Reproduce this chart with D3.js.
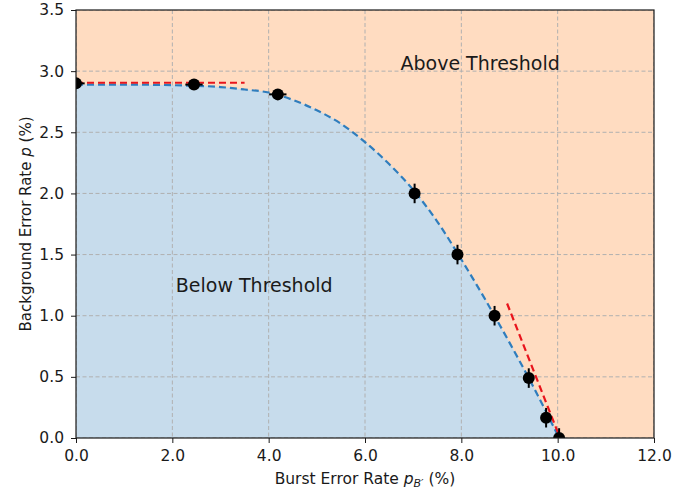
<!DOCTYPE html>
<html>
<head>
<meta charset="utf-8">
<script src="https://cdn.jsdelivr.net/npm/d3@7"></script>
<style>
  body { margin: 0; background: #fff; }
  text { font-family: "DejaVu Sans", sans-serif; }
</style>
</head>
<body>
<div id="chart"></div>
<script>
// threshold points (burst rate %, background rate %)
const pointX = [0.0, 2.45, 4.19, 7.03, 7.92, 8.69, 9.40, 9.76, 10.03];
const pointY = [2.90, 2.89, 2.81, 2.00, 1.50, 1.00, 0.49, 0.166, 0.0];
const errX   = [0.18, 0.18, 0.18, 0, 0, 0, 0, 0, 0];
const errY   = [0, 0, 0, 0.08, 0.08, 0.08, 0.08, 0.08, 0.08];

// fitted threshold boundary
const curveX = [0, 1.0, 2.0, 3.0, 3.5, 4.0, 4.5, 5.0, 5.5, 6.0, 6.5, 7.0, 7.5, 8.0, 8.5, 9.0, 9.5, 10.03];
const curveY = [2.89, 2.89, 2.885, 2.87, 2.85, 2.825, 2.765, 2.68, 2.57, 2.42, 2.24, 2.03, 1.77, 1.46, 1.13, 0.78, 0.415, 0.0];

// asymptotic red dashed guides
const guideTop = [[0, 2.905], [3.5, 2.905]];
const guideBottom = [[8.95, 1.1], [10.05, 0.0]];

const xTicks = [0, 2, 4, 6, 8, 10, 12];
const yTicks = [0, 0.5, 1.0, 1.5, 2.0, 2.5, 3.0, 3.5];

const width = 695, height = 491;
const margin = {top: 10, right: 41, bottom: 53, left: 76};
const iw = width - margin.left - margin.right;
const ih = height - margin.top - margin.bottom;

const svg = d3.select('#chart').append('svg')
    .attr('width', width)
    .attr('height', height);

const g = svg.append('g')
    .attr('transform', `translate(${margin.left},${margin.top})`);

const x = d3.scaleLinear().domain([0, 12]).range([0, iw]);
const y = d3.scaleLinear().domain([0, 3.5]).range([ih, 0]);

svg.append('defs').append('clipPath').attr('id', 'clip')
    .append('rect').attr('width', iw).attr('height', ih);

const plot = g.append('g').attr('clip-path', 'url(#clip)');

// above-threshold background
plot.append('rect')
    .attr('width', iw).attr('height', ih)
    .attr('fill', '#ffdcc1');

const curve = curveX.map((v, i) => [v, curveY[i]]);

plot.append('path')
    .datum(curve)
    .attr('fill', '#c7dcec')
    .attr('d', d3.area()
        .x(d => x(d[0]))
        .y0(y(0))
        .y1(d => y(d[1]))
        .curve(d3.curveMonotoneX));

// grid
plot.append('g').selectAll('line').data(xTicks).join('line')
    .attr('x1', d => x(d)).attr('x2', d => x(d))
    .attr('y1', 0).attr('y2', ih)
    .attr('stroke', '#b0b0b0').attr('stroke-width', 1)
    .attr('stroke-dasharray', '4,2.5');
plot.append('g').selectAll('line').data(yTicks).join('line')
    .attr('y1', d => y(d)).attr('y2', d => y(d))
    .attr('x1', 0).attr('x2', iw)
    .attr('stroke', '#b0b0b0').attr('stroke-width', 1)
    .attr('stroke-dasharray', '4,2.5');

plot.append('path')
    .datum(curve)
    .attr('fill', 'none')
    .attr('stroke', '#2f7dbd')
    .attr('stroke-width', 2.2)
    .attr('stroke-dasharray', '7,4')
    .attr('d', d3.line().x(d => x(d[0])).y(d => y(d[1])).curve(d3.curveMonotoneX));

[guideTop, guideBottom].forEach(seg => {
    plot.append('path')
        .datum(seg)
        .attr('fill', 'none')
        .attr('stroke', '#e8141c')
        .attr('stroke-width', 2.2)
        .attr('stroke-dasharray', '7,4')
        .attr('d', d3.line().x(d => x(d[0])).y(d => y(d[1])));
});

// error bars + markers
const pts = pointX.map((v, i) => ({x: v, y: pointY[i], ex: errX[i], ey: errY[i]}));
const eb = plot.append('g');
eb.selectAll('line.ex').data(pts.filter(d => d.ex > 0)).join('line')
    .attr('class', 'ex')
    .attr('x1', d => x(d.x - d.ex)).attr('x2', d => x(d.x + d.ex))
    .attr('y1', d => y(d.y)).attr('y2', d => y(d.y))
    .attr('stroke', 'black').attr('stroke-width', 2);
eb.selectAll('line.ey').data(pts.filter(d => d.ey > 0)).join('line')
    .attr('class', 'ey')
    .attr('x1', d => x(d.x)).attr('x2', d => x(d.x))
    .attr('y1', d => y(d.y - d.ey)).attr('y2', d => y(d.y + d.ey))
    .attr('stroke', 'black').attr('stroke-width', 2);
eb.selectAll('circle').data(pts).join('circle')
    .attr('cx', d => x(d.x)).attr('cy', d => y(d.y))
    .attr('r', 6).attr('fill', 'black');

// region labels
plot.append('text')
    .attr('x', x(8.39)).attr('y', y(3.01))
    .attr('text-anchor', 'middle')
    .attr('font-size', '19px').attr('fill', '#1a1a1a')
    .text('Above Threshold');
plot.append('text')
    .attr('x', x(3.7)).attr('y', y(1.19))
    .attr('text-anchor', 'middle')
    .attr('font-size', '19px').attr('fill', '#1a1a1a')
    .text('Below Threshold');

// axes
const xAxis = g.append('g')
    .attr('transform', `translate(0,${ih})`)
    .call(d3.axisBottom(x).tickValues(xTicks).tickFormat(d3.format('.1f')).tickSize(5).tickPadding(7));
const yAxis = g.append('g')
    .call(d3.axisLeft(y).tickValues(yTicks).tickFormat(d3.format('.1f')).tickSize(5).tickPadding(7));

[xAxis, yAxis].forEach(a => {
    a.select('.domain').remove();
    a.selectAll('text').attr('font-size', '15.5px').attr('fill', '#1a1a1a')
        .attr('font-family', '"DejaVu Sans", sans-serif');
    a.selectAll('line').attr('stroke', '#1a1a1a').attr('stroke-width', 1);
});

g.append('rect')
    .attr('width', iw).attr('height', ih)
    .attr('fill', 'none').attr('stroke', '#1a1a1a').attr('stroke-width', 1.2);

// axis titles
const xl = svg.append('text')
    .attr('x', margin.left + iw / 2).attr('y', 484)
    .attr('text-anchor', 'middle')
    .attr('font-size', '15.5px').attr('fill', '#1a1a1a');
xl.append('tspan').text('Burst Error Rate ');
xl.append('tspan').attr('font-style', 'italic').text('p');
xl.append('tspan').attr('font-style', 'italic').attr('font-size', '11px').attr('dy', 3).text('B′');
xl.append('tspan').attr('dy', -3).text(' (%)');

const yl = svg.append('text')
    .attr('transform', `translate(31,${margin.top + ih / 2}) rotate(-90)`)
    .attr('text-anchor', 'middle')
    .attr('font-size', '15px').attr('fill', '#1a1a1a');
yl.append('tspan').text('Background Error Rate ');
yl.append('tspan').attr('font-style', 'italic').text('p');
yl.append('tspan').text(' (%)');
</script>
</body>
</html>
